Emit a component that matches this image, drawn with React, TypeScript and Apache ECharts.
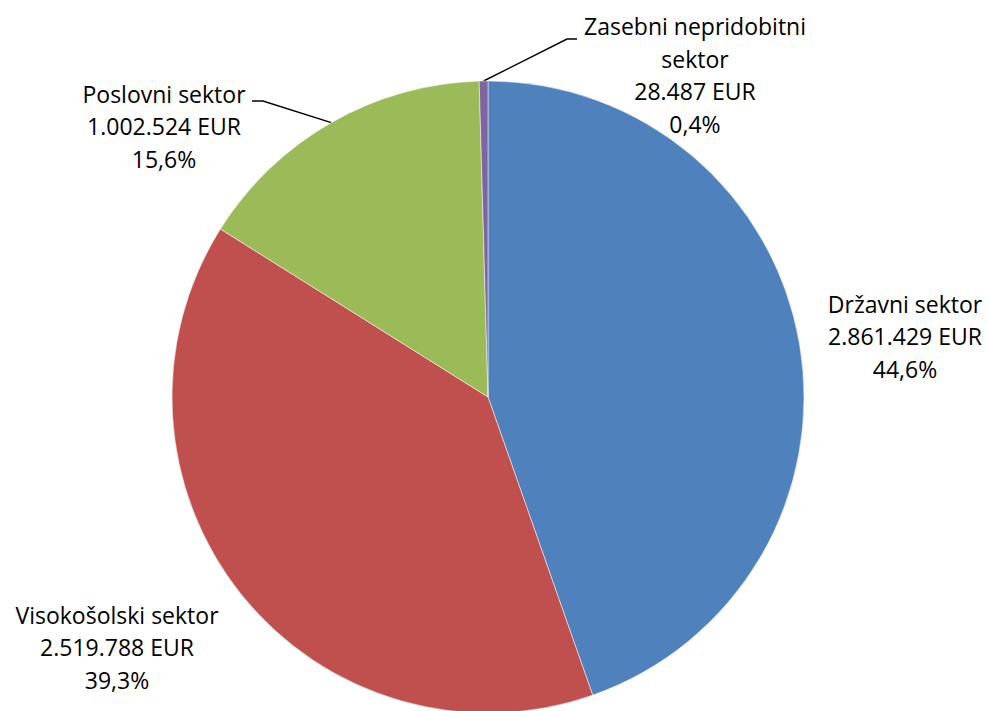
import React, { useEffect, useRef } from "react";
import * as echarts from "echarts";

const categories = ["Državni sektor", "Visokošolski sektor", "Poslovni sektor", "Zasebni nepridobitni sektor"];
const labelNames = ["Državni sektor", "Visokošolski sektor", "Poslovni sektor", "Zasebni nepridobitni\nsektor"];
const values = [2861429, 2519788, 1002524, 28487];
const colors = ["#4F81BD", "#C0504D", "#9BBB59", "#8064A2"];
const labelPositions = [
  { x: 905, y: 336 },
  { x: 117, y: 647 },
  { x: 164, y: 126 },
  { x: 695, y: 75 },
];
// elbow points of leader lines (null = no leader)
const leaderElbows: (number[][] | null)[] = [
  null,
  null,
  [[263, 101], [252, 101]],
  [[567, 39], [577, 39]],
];

const CX = 488;
const CY = 397;
const R = 316;

function fmtNum(v: number): string {
  return String(v).replace(/\B(?=(\d{3})+(?!\d))/g, ".");
}

export default function App() {
  const ref = useRef<HTMLDivElement>(null);
  useEffect(() => {
    if (!ref.current) return;
    const chart = echarts.init(ref.current, null, { renderer: "svg" });
    const total = values.reduce((a, b) => a + b, 0);
    const edgePoint = (i: number): number[] => {
      let before = 0;
      for (let k = 0; k < i; k++) before += values[k];
      const frac = (before + values[i] / 2) / total;
      const a = frac * Math.PI * 2;
      return [CX + R * Math.sin(a), CY - R * Math.cos(a)];
    };
    chart.setOption({
      animation: false,
      backgroundColor: "#ffffff",
      series: [
        {
          type: "pie",
          center: [CX, CY],
          radius: R,
          startAngle: 90,
          clockwise: true,
          avoidLabelOverlap: false,
          itemStyle: { borderColor: "#ffffff", borderWidth: 0.5 },
          label: {
            show: true,
            position: "outside",
            fontFamily: "'Open Sans', sans-serif",
            fontSize: 23,
            lineHeight: 32.5,
            color: "#000000",
            align: "center",
            formatter: (p: any) =>
              `${labelNames[p.dataIndex]}\n${fmtNum(p.value)} EUR\n${p.percent.toFixed(1).replace(".", ",")}%`,
          },
          labelLine: { show: true, lineStyle: { color: "#000000", width: 1.5 } },
          labelLayout: (params: any) => {
            const i = params.dataIndex;
            const pos = labelPositions[i];
            const out: any = { x: pos.x, y: pos.y, align: "center", verticalAlign: "middle" };
            const elbows = leaderElbows[i];
            if (elbows) {
              out.labelLinePoints = [edgePoint(i), elbows[0], elbows[1]];
            }
            return out;
          },
          emphasis: { disabled: true },
          data: categories.map((name, i) => ({
            name,
            value: values[i],
            itemStyle: { color: colors[i] },
            labelLine: { show: leaderElbows[i] !== null },
          })),
        },
      ],
    });
    return () => chart.dispose();
  }, []);
  return (
    <div
      ref={ref}
      style={{ position: "fixed", left: 0, top: 0, width: 988, height: 711 }}
    />
  );
}
